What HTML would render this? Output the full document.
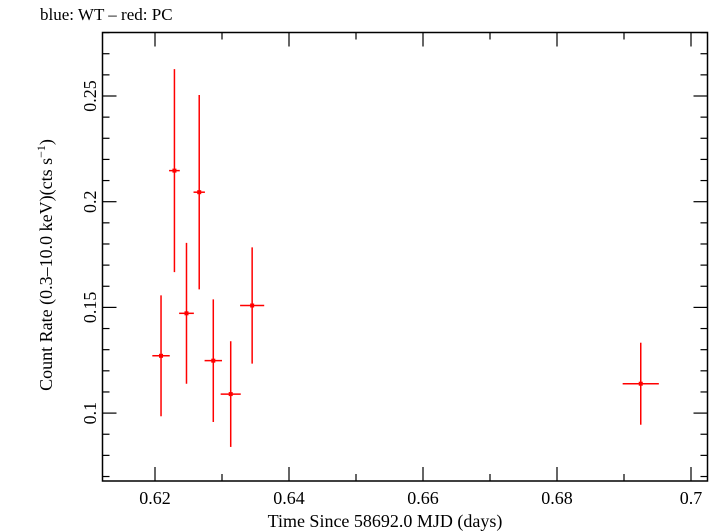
<!DOCTYPE html>
<html><head><meta charset="utf-8"><style>
html,body{margin:0;padding:0;background:#fff}
svg{display:block;font-family:"Liberation Serif",serif}
</style></head><body>
<svg id="chart" width="716" height="532" viewBox="0 0 716 532">
<text x="40" y="20" font-size="17" fill="#000">blue: WT – red: PC</text>
<rect x="102.5" y="32.5" width="605" height="448.5" fill="none" stroke="#000" stroke-width="1.5"/>
<g id="axes"></g>
<g id="series"></g>
<text x="385" y="527" font-size="18" text-anchor="middle">Time Since 58692.0 MJD (days)</text>
<text transform="translate(52,265) rotate(-90)" font-size="18" text-anchor="middle">Count Rate (0.3–10.0 keV)(cts s<tspan dy="-7" font-size="12">−1</tspan><tspan dy="7">)</tspan></text>
</svg>
<script>
const xTicks=[0.62,0.64,0.66,0.68,0.7];
const xTickLabels=["0.62","0.64","0.66","0.68","0.7"];
const yTicks=[0.1,0.15,0.2,0.25];
const yTickLabels=["0.1","0.15","0.2","0.25"];
const times=[0.6209,0.6229,0.6247,0.6266,0.6287,0.6313,0.6345,0.6925];
const timeErr=[0.0013,0.0008,0.0011,0.00085,0.0013,0.0015,0.0018,0.0027];
const rates=[0.1271,0.2147,0.1472,0.2045,0.1248,0.1090,0.1509,0.1139];
const rateErr=[0.0286,0.048,0.0333,0.046,0.029,0.025,0.0275,0.0194];

const X0=102.5,X1=707.5,Y0=32.5,Y1=481;
function sx(v){return 155+(v-0.62)*6700;}
function sy(v){return 96+(0.25-v)*2114;}
const NS="http://www.w3.org/2000/svg";
function mk(tag,attrs,parent){const e=document.createElementNS(NS,tag);for(const k in attrs)e.setAttribute(k,attrs[k]);parent.appendChild(e);return e;}
const ax=document.getElementById('axes');
for(let i=0;i<=12;i++){
  const v=0.61+i*0.01; const px=sx(v);
  if(px<X0||px>X1) continue;
  const major=Math.abs(Math.round(v*100)%2)===0;
  const len=major?14:7;
  const t1=mk('line',{x1:px,y1:Y1,x2:px,y2:Y1-len,stroke:'#000','stroke-width':1.2},ax);
  
  
  const t2=mk('line',{x1:px,y1:Y0,x2:px,y2:Y0+len,stroke:'#000','stroke-width':1.2},ax);
  
  
}
xTicks.forEach((v,i)=>{
  const t=mk('text',{x:sx(v),y:504,'font-size':18,'text-anchor':'middle'},ax);
  t.textContent=xTickLabels[i];
  
  
});
for(let i=0;i<=30;i++){
  const v=0.07+i*0.01; const py=sy(v);
  if(py<Y0||py>Y1) continue;
  const major=Math.abs(Math.round(v*100)%5)===0;
  const len=major?14:7;
  const t1=mk('line',{x1:X0,y1:py,x2:X0+len,y2:py,stroke:'#000','stroke-width':1.2},ax);
  
  
  const t2=mk('line',{x1:X1,y1:py,x2:X1-len,y2:py,stroke:'#000','stroke-width':1.2},ax);
  
  
}
yTicks.forEach((v,i)=>{
  const t=mk('text',{transform:`translate(96,${sy(v)}) rotate(-90)`,'font-size':18,'text-anchor':'middle'},ax);
  t.textContent=yTickLabels[i];
  
  
});
const sg=document.getElementById('series');
times.forEach((t,i)=>{
  const cx=sx(t),cy=sy(rates[i]);
  const g=mk('g',{},sg);
  
  
  mk('line',{x1:cx,y1:sy(rates[i]+rateErr[i]),x2:cx,y2:sy(rates[i]-rateErr[i]),stroke:'#f00','stroke-width':1.5},g);
  mk('line',{x1:sx(t-timeErr[i]),y1:cy,x2:sx(t+timeErr[i]),y2:cy,stroke:'#f00','stroke-width':1.5},g);
  mk('rect',{x:cx-2,y:cy-2,width:4,height:4,fill:'#f00'},g);
});
</script>
</body></html>
